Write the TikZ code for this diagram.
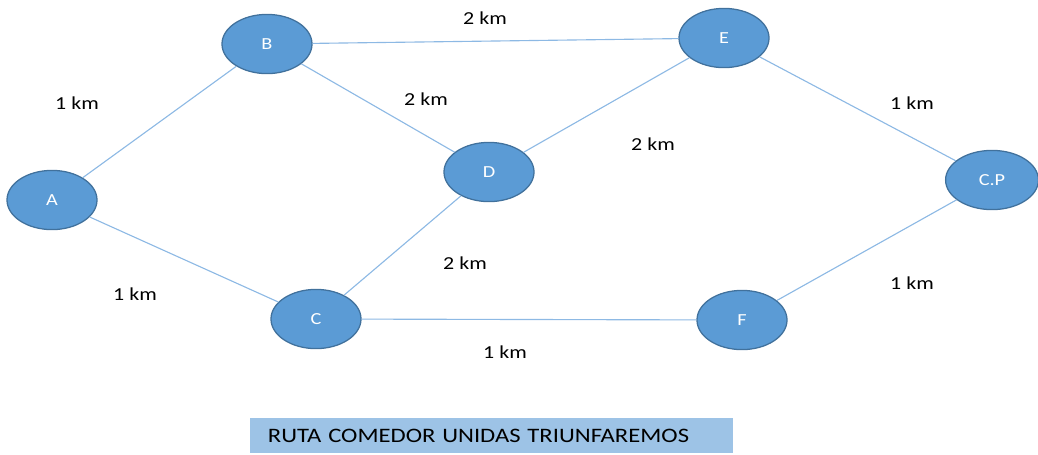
\documentclass[tikz,border=0pt]{standalone}
\usepackage{fontspec}
\setmainfont{Carlito}[FakeStretch=1.2]
\usetikzlibrary{shapes.geometric}
\definecolor{nodeblue}{HTML}{5B9BD5}
\definecolor{nodeedge}{HTML}{41719C}
\definecolor{routeblue}{HTML}{8DB9E4}
\definecolor{titleblue}{HTML}{9DC3E6}

\begin{document}
\begin{tikzpicture}
[
    x=0.025cm, y=-0.025cm,
    place/.style={ellipse, fill=nodeblue, draw=nodeedge, line width=0.9pt,
        minimum width=2.25cm, minimum height=1.48cm, inner sep=0pt,
        text=white, font=\fontsize{12}{14}\selectfont},
    route/.style={draw=routeblue, line width=0.8pt},
    dist/.style={font=\fontsize{13}{15}\selectfont, text=black},
]
\useasboundingbox (0,0) rectangle (1038,454);

\node [place] (A) at (52,200) {A};
\node [place] (B) at (267,44) {B};
\node [place] (D) at (489,172) {D};
\node [place] (C) at (316,319) {C};
\node [place] (E) at (724,38) {E};
\node [place] (F) at (742,320) {F};
\node [place, minimum width=2.32cm] (CP) at (992,180) {C.P};

\draw [route] (A) -- (B);
\draw [route] (A) -- (C);
\draw [route] (B) -- (E);
\draw [route] (B) -- (D);
\draw [route] (D) -- (E);
\draw [route] (C) -- (D);
\draw [route] (C) -- (F);
\draw [route] (E) -- (CP);
\draw [route] (F) -- (CP);

\node [dist] (ab) at (77,103) {1 km};
\node [dist] (be) at (485,18) {2 km};
\node [dist] (bd) at (426,99) {2 km};
\node [dist] (ecp) at (912,103) {1 km};
\node [dist] (de) at (653,144) {2 km};
\node [dist] (cd) at (465,263) {2 km};
\node [dist] (ac) at (135,294) {1 km};
\node [dist] (fcp) at (912,283) {1 km};
\node [dist] (cf) at (505,352) {1 km};

\node [fill=titleblue, minimum width=12.075cm, minimum height=0.875cm,
    text width=11.175cm, inner xsep=0.45cm, align=left,
    font=\fontsize{14.6}{16}\selectfont] (title) at (491.5,435.5)
    {RUTA COMEDOR UNIDAS TRIUNFAREMOS};
\end{tikzpicture}
\end{document}
